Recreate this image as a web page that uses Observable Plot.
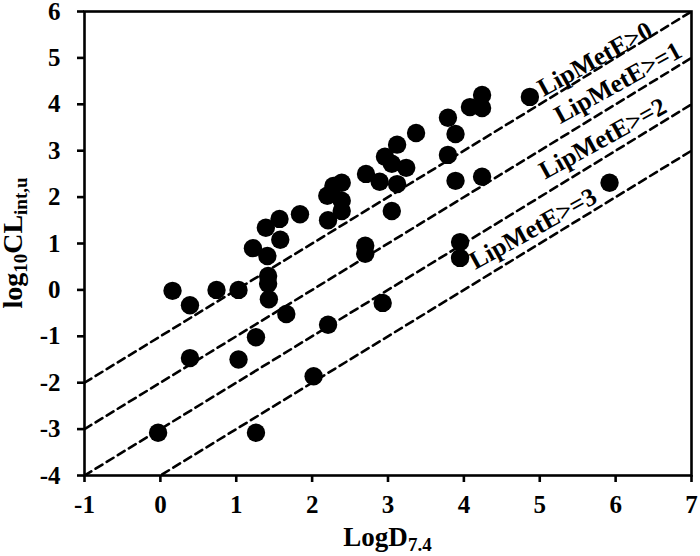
<!DOCTYPE html>
<html>
<head>
<meta charset="utf-8">
<script src="https://cdn.jsdelivr.net/npm/d3@7"></script>
<script src="https://cdn.jsdelivr.net/npm/@observablehq/plot@0.6"></script>
<style>
  body { margin: 0; background: #fff; }
  #chart svg { display: block; }
</style>
</head>
<body>
<div id="chart"></div>
<script>
// LogD7.4 values (x) and log10 CLint,u values (y)
const logD = [
  0.16, 0.39, 0.74, 1.03, 1.22, 1.39, 1.57, 1.58, 1.41, 1.42,
  1.42, 1.43, 1.84, 1.66, 2.21, 1.26, 0.39, 1.03, 2.02, -0.03,
  1.26, 2.20, 2.28, 2.39, 2.39, 2.39, 2.21, 2.71, 2.89, 2.96,
  3.05, 3.12, 3.12, 3.24, 3.37, 3.79, 3.79, 3.89, 3.89, 4.08,
  4.24, 4.24, 4.24, 4.87, 5.92, 2.70, 2.70, 3.05, 3.95, 3.95,
  2.93
];
const logCL = [
  -0.02, -0.33, 0.00, 0.00, 0.90, 1.34, 1.53, 1.08, 0.73, 0.30,
  0.13, -0.20, 1.63, -0.52, -0.75, -1.02, -1.47, -1.50, -1.86, -3.08,
  -3.08, 2.03, 2.24, 2.31, 1.92, 1.70, 1.50, 2.50, 2.33, 2.87,
  2.72, 3.13, 2.28, 2.63, 3.38, 3.71, 2.91, 3.36, 2.35, 3.94,
  4.20, 3.92, 2.44, 4.16, 2.31, 0.95, 0.78, 1.70, 1.03, 0.69,
  -0.28
];

// LipMetE threshold lines: log10CL = LogD - 1 - threshold
const thresholds = [0, 1, 2, 3];
const thresholdLabels = ["LipMetE>0", "LipMetE>=1", "LipMetE>=2", "LipMetE>=3"];
const labelStartX = [5.05, 5.27, 5.07, 4.15];
const labelLift = [5, 14, 14, 13];

const xTicks = [-1, 0, 1, 2, 3, 4, 5, 6, 7];
const yTicks = [-4, -3, -2, -1, 0, 1, 2, 3, 4, 5, 6];
const xDomain = [-1, 7];
const yDomain = [-4, 6];

const points = logD.map((x, i) => ({x, y: logCL[i]}));
const lineRows = thresholds.flatMap(t => xDomain.map(x => ({t, x, y: x - 1 - t})));

const serif = "'Liberation Serif', 'Times New Roman', serif";

const labelMarks = thresholds.map((t, i) =>
  Plot.text([i], {
    x: d => labelStartX[d],
    y: d => labelStartX[d] - 1 - thresholds[d],
    text: d => thresholdLabels[d],
    textAnchor: "start",
    lineAnchor: "bottom",
    rotate: -29,
    dy: -labelLift[i],
    fontSize: 25.5,
    fontWeight: "bold",
    fill: "black"
  })
);

const chart = Plot.plot({
  width: 700,
  height: 556,
  marginLeft: 84,
  marginRight: 9,
  marginTop: 11,
  marginBottom: 81,
  style: {fontFamily: serif, fontWeight: "bold", fontSize: "25px", color: "black", background: "white"},
  x: {domain: xDomain},
  y: {domain: yDomain},
  marks: [
    Plot.line(lineRows, {x: "x", y: "y", z: "t", stroke: "black", strokeWidth: 2.6, strokeDasharray: "8,5", clip: true}),
    Plot.dot(points, {x: "x", y: "y", r: 9.2, fill: "black"}),
    ...labelMarks,
    Plot.frame({stroke: "black", strokeWidth: 2.6}),
    Plot.axisX({ticks: xTicks, tickSize: 7, tickPadding: 13, tickFormat: d => String(d), label: null, strokeWidth: 2.6}),
    Plot.axisY({ticks: yTicks, tickSize: 7, tickPadding: 17, tickFormat: d => String(d), label: null, strokeWidth: 2.6})
  ]
});

document.getElementById("chart").appendChild(chart);

// Axis titles with subscripts
const svg = d3.select(chart);
const xr = chart.scale("x").range;
const yr = chart.scale("y").range;

const xt = svg.append("text")
  .attr("x", (xr[0] + xr[1]) / 2)
  .attr("y", 546)
  .attr("text-anchor", "middle")
  .attr("font-family", serif)
  .attr("font-weight", "bold")
  .attr("font-size", 27)
  .attr("fill", "black");
xt.append("tspan").text("LogD");
xt.append("tspan").attr("font-size", 19).attr("dy", 5).text("7.4");

const yt = svg.append("text")
  .attr("transform", `translate(22,${(yr[0] + yr[1]) / 2}) rotate(-90)`)
  .attr("text-anchor", "middle")
  .attr("font-family", serif)
  .attr("font-weight", "bold")
  .attr("font-size", 28)
  .attr("fill", "black");
yt.append("tspan").text("log");
yt.append("tspan").attr("font-size", 19).attr("dy", 5).text("10");
yt.append("tspan").attr("dy", -5).text("CL");
yt.append("tspan").attr("font-size", 19).attr("dy", 5).text("int,u");
</script>
</body>
</html>
